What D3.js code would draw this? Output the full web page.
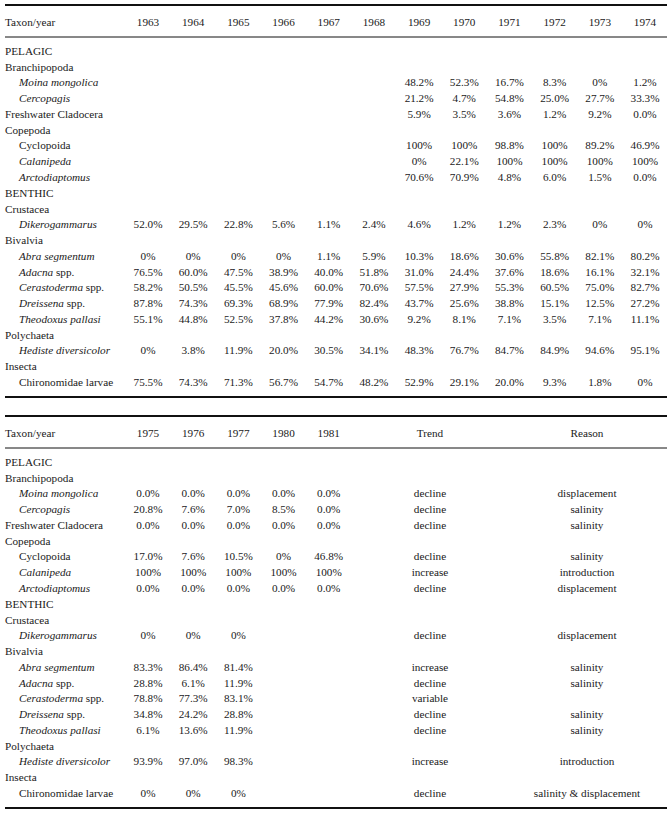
<!DOCTYPE html>
<html>
<head>
<meta charset="utf-8">
<script src="https://cdn.jsdelivr.net/npm/d3@7"></script>
<style>
  html, body { margin: 0; padding: 0; background: #fff; }
  svg { display: block; }
</style>
</head>
<body>
<svg id="chart" width="671" height="813"></svg>
<script>
// ---------------- DATA ----------------
const yearsA = ["1963","1964","1965","1966","1967","1968","1969","1970","1971","1972","1973","1974"];
const yearsB = ["1975","1976","1977","1980","1981"];

// row labels: [italic part, roman part, level]
const rowLabels = [
  ["", "PELAGIC", 0],
  ["", "Branchipopoda", 0],
  ["Moina mongolica", "", 1],
  ["Cercopagis", "", 1],
  ["", "Freshwater Cladocera", 0],
  ["", "Copepoda", 0],
  ["", "Cyclopoida", 1],
  ["Calanipeda", "", 1],
  ["Arctodiaptomus", "", 1],
  ["", "BENTHIC", 0],
  ["", "Crustacea", 0],
  ["Dikerogammarus", "", 1],
  ["", "Bivalvia", 0],
  ["Abra segmentum", "", 1],
  ["Adacna", " spp.", 1],
  ["Cerastoderma", " spp.", 1],
  ["Dreissena", " spp.", 1],
  ["Theodoxus pallasi", "", 1],
  ["", "Polychaeta", 0],
  ["Hediste diversicolor", "", 1],
  ["", "Insecta", 0],
  ["", "Chironomidae larvae", 1]
];

// values 1963–1974 (null = blank)
const valuesA = [
  null, null,
  [null,null,null,null,null,null,"48.2%","52.3%","16.7%","8.3%","0%","1.2%"],
  [null,null,null,null,null,null,"21.2%","4.7%","54.8%","25.0%","27.7%","33.3%"],
  [null,null,null,null,null,null,"5.9%","3.5%","3.6%","1.2%","9.2%","0.0%"],
  null,
  [null,null,null,null,null,null,"100%","100%","98.8%","100%","89.2%","46.9%"],
  [null,null,null,null,null,null,"0%","22.1%","100%","100%","100%","100%"],
  [null,null,null,null,null,null,"70.6%","70.9%","4.8%","6.0%","1.5%","0.0%"],
  null, null,
  ["52.0%","29.5%","22.8%","5.6%","1.1%","2.4%","4.6%","1.2%","1.2%","2.3%","0%","0%"],
  null,
  ["0%","0%","0%","0%","1.1%","5.9%","10.3%","18.6%","30.6%","55.8%","82.1%","80.2%"],
  ["76.5%","60.0%","47.5%","38.9%","40.0%","51.8%","31.0%","24.4%","37.6%","18.6%","16.1%","32.1%"],
  ["58.2%","50.5%","45.5%","45.6%","60.0%","70.6%","57.5%","27.9%","55.3%","60.5%","75.0%","82.7%"],
  ["87.8%","74.3%","69.3%","68.9%","77.9%","82.4%","43.7%","25.6%","38.8%","15.1%","12.5%","27.2%"],
  ["55.1%","44.8%","52.5%","37.8%","44.2%","30.6%","9.2%","8.1%","7.1%","3.5%","7.1%","11.1%"],
  null,
  ["0%","3.8%","11.9%","20.0%","30.5%","34.1%","48.3%","76.7%","84.7%","84.9%","94.6%","95.1%"],
  null,
  ["75.5%","74.3%","71.3%","56.7%","54.7%","48.2%","52.9%","29.1%","20.0%","9.3%","1.8%","0%"]
];

// values 1975–1981
const valuesB = [
  null, null,
  ["0.0%","0.0%","0.0%","0.0%","0.0%"],
  ["20.8%","7.6%","7.0%","8.5%","0.0%"],
  ["0.0%","0.0%","0.0%","0.0%","0.0%"],
  null,
  ["17.0%","7.6%","10.5%","0%","46.8%"],
  ["100%","100%","100%","100%","100%"],
  ["0.0%","0.0%","0.0%","0.0%","0.0%"],
  null, null,
  ["0%","0%","0%",null,null],
  null,
  ["83.3%","86.4%","81.4%",null,null],
  ["28.8%","6.1%","11.9%",null,null],
  ["78.8%","77.3%","83.1%",null,null],
  ["34.8%","24.2%","28.8%",null,null],
  ["6.1%","13.6%","11.9%",null,null],
  null,
  ["93.9%","97.0%","98.3%",null,null],
  null,
  ["0%","0%","0%",null,null]
];

const trends = [
  "", "", "decline", "decline", "decline", "", "decline", "increase", "decline",
  "", "", "decline", "", "increase", "decline", "variable", "decline", "decline",
  "", "increase", "", "decline"
];
const reasons = [
  "", "", "displacement", "salinity", "salinity", "", "salinity", "introduction", "displacement",
  "", "", "displacement", "", "salinity", "salinity", "", "salinity", "salinity",
  "", "introduction", "", "salinity & displacement"
];

// ---------------- DRAW ----------------
const svg = d3.select("#chart");
const xLeft = 5, xRight = 667;
const FONT = "Liberation Serif";

const colX = d3.scalePoint().domain(d3.range(12)).range([148, 645]);
const extraX = d3.scalePoint().domain(["Trend", "Reason"]).range([430, 587]);
const indentX = d3.scaleOrdinal().domain([0, 1]).range([5, 19]);

function txt(g, x, y, anchor) {
  return g.append("text").attr("x", x).attr("y", y).attr("dy", "0.35em")
    .attr("text-anchor", anchor || "start")
    .attr("font-family", FONT).attr("font-size", 11.2).attr("fill", "#1a1a1a");
}

function drawTable(top, headerYears, values, withExtra) {
  const g = svg.append("g");
  const rowY = d3.scalePoint().domain(d3.range(rowLabels.length)).range([top + 46, top + 377]);
  const headerY = top + 17.5;

  // rules
  g.append("line").attr("x1", xLeft).attr("x2", xRight).attr("y1", top).attr("y2", top)
    .attr("stroke", "#111").attr("stroke-width", 2);
  g.append("line").attr("x1", xLeft).attr("x2", xRight).attr("y1", top + 32).attr("y2", top + 32)
    .attr("stroke", "#111").attr("stroke-width", 1);
  g.append("line").attr("x1", xLeft).attr("x2", xRight).attr("y1", top + 392).attr("y2", top + 392)
    .attr("stroke", "#111").attr("stroke-width", 2);

  // header
  txt(g, xLeft, headerY).text("Taxon/year");
  headerYears.forEach((d, i) => txt(g, colX(i), headerY, "middle").text(d));
  if (withExtra) {
    extraX.domain().forEach(d => txt(g, extraX(d), headerY, "middle").text(d));
  }

  // row labels
  rowLabels.forEach((r, i) => {
    const t = txt(g, indentX(r[2]), rowY(i));
    if (r[0]) t.append("tspan").attr("font-style", "italic").attr("font-family", FONT).text(r[0]);
    if (r[1]) t.append("tspan").attr("font-family", FONT).text(r[1].replace(/^ /, "\u00a0"));
  });

  // values
  values.forEach((vals, i) => {
    if (!vals) return;
    vals.forEach((v, j) => {
      if (v == null) return;
      txt(g, colX(j), rowY(i), "middle").text(v);
    });
  });

  if (withExtra) {
    trends.forEach((t, i) => { if (t) txt(g, extraX("Trend"), rowY(i), "middle").text(t); });
    reasons.forEach((t, i) => { if (t) txt(g, extraX("Reason"), rowY(i), "middle").text(t); });
  }
}

drawTable(5, yearsA, valuesA, false);
drawTable(416, yearsB, valuesB, true);
</script>
</body>
</html>
